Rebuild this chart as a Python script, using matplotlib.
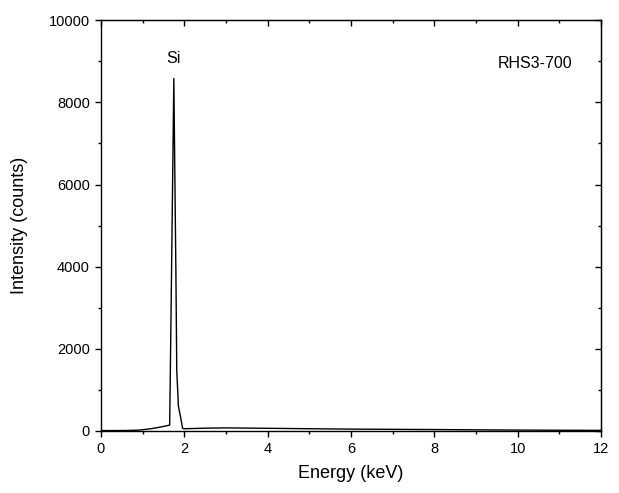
import matplotlib
matplotlib.use("Agg")
import matplotlib.pyplot as plt
from matplotlib.ticker import MultipleLocator

plt.rcParams['font.family'] = ['Liberation Sans', 'DejaVu Sans']

# EDS spectrum
energy = [0, 0.3, 0.6, 0.9, 1.0, 1.2, 1.4, 1.55, 1.65, 1.68, 1.72, 1.75,
          1.78, 1.80, 1.82, 1.86, 1.91, 1.96, 2.0, 2.2, 2.6, 3.0, 3.5, 4.0,
          4.5, 5.0, 5.5, 6.0, 7.0, 8.0, 9.0, 10.0, 11.0, 12.0]
counts = [10, 10, 12, 20, 30, 55, 90, 120, 145, 2600, 6000, 8580,
          5700, 3800, 1480, 600, 350, 65, 55, 60, 70, 75, 70, 65,
          60, 55, 50, 45, 40, 35, 28, 22, 18, 15]

peak_label = "Si"
sample_name = "RHS3-700"

fig = plt.figure(figsize=(6.19, 4.93), dpi=100)
ax = fig.add_axes([0.163, 0.1258, 0.808, 0.8332])
ax.plot(energy, counts, color="black", lw=1.0)

ax.set_xlim(0, 12)
ax.set_ylim(0, 10000)
ax.xaxis.set_major_locator(MultipleLocator(2))
ax.xaxis.set_minor_locator(MultipleLocator(1))
ax.yaxis.set_major_locator(MultipleLocator(2000))
ax.yaxis.set_minor_locator(MultipleLocator(1000))
ax.tick_params(which="both", direction="out", labelsize=10.5, width=1)
ax.tick_params(which="major", length=4.5)
ax.tick_params(which="minor", length=2.5)
for s in ax.spines.values():
    s.set_linewidth(1.0)

# mirrored ticks pointing inward on top and right
top = ax.secondary_xaxis("top")
top.xaxis.set_major_locator(MultipleLocator(2))
top.xaxis.set_minor_locator(MultipleLocator(1))
top.tick_params(which="both", direction="in", labeltop=False, width=1)
top.tick_params(which="major", length=4.5)
top.tick_params(which="minor", length=2.5)
right = ax.secondary_yaxis("right")
right.yaxis.set_major_locator(MultipleLocator(2000))
right.yaxis.set_minor_locator(MultipleLocator(1000))
right.tick_params(which="both", direction="in", labelright=False, width=1)
right.tick_params(which="major", length=4.5)
right.tick_params(which="minor", length=2.5)

ax.set_xlabel("Energy (keV)", fontsize=13)
ax.set_ylabel("Intensity (counts)", fontsize=13)
ax.xaxis.set_label_coords(0.5, -0.083)
ax.yaxis.set_label_coords(-0.146, 0.5)

ax.text(1.745, 9070, peak_label, ha="center", va="center", fontsize=11.5)
ax.text(10.42, 8950, sample_name, ha="center", va="center", fontsize=11.5)

fig.savefig("out.png", dpi=100)
